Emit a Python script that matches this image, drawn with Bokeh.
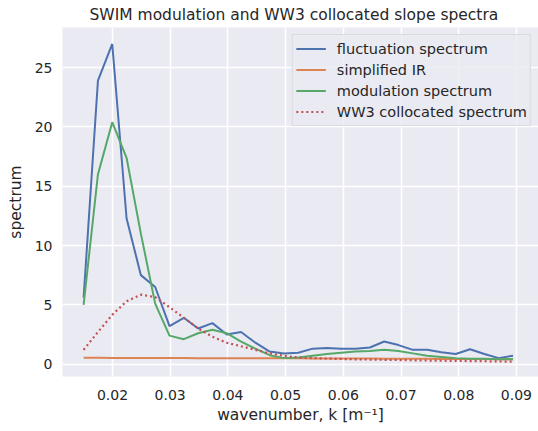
from bokeh.plotting import figure
from bokeh.embed import file_html
from bokeh.resources import INLINE
from bokeh.models import Range1d, FixedTicker, PrintfTickFormatter, Legend, LegendItem

# wavenumber k [1/m]
k = [0.0150, 0.01748, 0.01996, 0.02244, 0.02492, 0.0274, 0.02988, 0.03236,
     0.03484, 0.03732, 0.0398, 0.04228, 0.04476, 0.04724, 0.04972, 0.0522,
     0.05468, 0.05716, 0.05964, 0.06212, 0.0646, 0.06708, 0.06956, 0.07204,
     0.07452, 0.077, 0.07948, 0.08196, 0.08444, 0.08692, 0.0894]

fluctuation = [5.6, 23.9, 27.0, 12.3, 7.5, 6.5, 3.2, 3.9, 3.0, 3.45, 2.5, 2.7,
               1.8, 1.05, 0.9, 0.95, 1.3, 1.35, 1.3, 1.3, 1.4, 1.9, 1.6, 1.2,
               1.2, 1.0, 0.85, 1.25, 0.85, 0.5, 0.7]

simplified_ir = [0.53, 0.53, 0.52, 0.52, 0.52, 0.51, 0.51, 0.51, 0.50, 0.50,
                 0.50, 0.49, 0.49, 0.49, 0.48, 0.48, 0.47, 0.47, 0.47, 0.46,
                 0.46, 0.45, 0.45, 0.44, 0.44, 0.43, 0.43, 0.42, 0.42, 0.41, 0.41]

modulation = [5.0, 16.0, 20.4, 17.4, 11.0, 5.1, 2.4, 2.1, 2.6, 2.9, 2.6, 1.9,
              1.3, 0.75, 0.5, 0.55, 0.7, 0.85, 0.95, 1.05, 1.1, 1.2, 1.1, 0.9,
              0.7, 0.6, 0.5, 0.45, 0.45, 0.4, 0.4]

ww3 = [1.2, 2.7, 4.15, 5.3, 5.85, 5.65, 4.8, 3.9, 3.0, 2.3, 1.8, 1.5, 1.2, 0.9,
       0.7, 0.55, 0.5, 0.46, 0.43, 0.4, 0.38, 0.36, 0.34, 0.32, 0.3, 0.28,
       0.27, 0.25, 0.24, 0.22, 0.2]

x_ticks = [0.02, 0.03, 0.04, 0.05, 0.06, 0.07, 0.08, 0.09]
y_ticks = [0, 5, 10, 15, 20, 25]

FONT = "DejaVu Sans"
TXT = "#262626"

p = figure(width=538, height=431, output_backend="svg", toolbar_location=None,
           x_range=Range1d(0.01134, 0.09382), y_range=Range1d(-1.05, 28.39),
           min_border_left=62, min_border_right=0, min_border_top=26,
           min_border_bottom=55)

p.background_fill_color = "#EAEAF2"
p.border_fill_color = "white"
p.outline_line_color = None

p.title.text = "SWIM modulation and WW3 collocated slope spectra"
p.title.text_font = FONT
p.title.text_font_size = "15.5px"
p.title.text_font_style = "normal"
p.title.text_color = TXT
p.title.align = "left"
p.title.offset = 27
p.title.standoff = 7

for ax in (p.xaxis, p.yaxis):
    ax.axis_line_color = None
    ax.major_tick_line_color = None
    ax.minor_tick_line_color = None
    ax.major_tick_out = 0
    ax.major_tick_in = 0
    ax.minor_tick_out = 0
    ax.major_label_text_font = FONT
    ax.major_label_text_font_size = "14px"
    ax.major_label_text_color = TXT
    ax.axis_label_text_font = FONT
    ax.axis_label_text_font_size = "15.5px"
    ax.axis_label_text_font_style = "normal"
    ax.axis_label_text_color = TXT

p.xaxis.major_label_standoff = 13
p.yaxis.major_label_standoff = 10

p.xaxis.ticker = FixedTicker(ticks=x_ticks)
p.yaxis.ticker = FixedTicker(ticks=y_ticks)
p.xaxis.formatter = PrintfTickFormatter(format="%.2f")
p.yaxis.formatter = PrintfTickFormatter(format="%d")
p.xaxis.axis_label = "wavenumber, k [m\u207b\u00b9]"
p.yaxis.axis_label = "spectrum"
p.xaxis.axis_label_standoff = 3
p.yaxis.axis_label_standoff = 7

p.xgrid.grid_line_color = "white"
p.ygrid.grid_line_color = "white"
p.xgrid.grid_line_width = 1.5
p.ygrid.grid_line_width = 1.5

r1 = p.line(k, fluctuation, line_color="#4C72B0", line_width=2)
r2 = p.line(k, simplified_ir, line_color="#DD8452", line_width=2)
r3 = p.line(k, modulation, line_color="#55A868", line_width=2)
r4 = p.line(k, ww3, line_color="#C44E52", line_width=2.2, line_dash="2 3")

legend = Legend(items=[
    LegendItem(label="fluctuation spectrum", renderers=[r1]),
    LegendItem(label="simplified IR", renderers=[r2]),
    LegendItem(label="modulation spectrum", renderers=[r3]),
    LegendItem(label="WW3 collocated spectrum", renderers=[r4]),
], location="top_right")
legend.margin = 7
legend.padding = 3
legend.spacing = 0
legend.label_height = 21
legend.glyph_height = 21
legend.glyph_width = 30
legend.label_standoff = 11
legend.label_text_font = FONT
legend.label_text_font_size = "14.5px"
legend.label_text_color = TXT
legend.background_fill_color = "#EAEAF2"
legend.background_fill_alpha = 0.8
legend.border_line_color = "#CCCCCC"
legend.border_line_width = 1
p.add_layout(legend)

open("out.html", "w").write(file_html(p, INLINE))
